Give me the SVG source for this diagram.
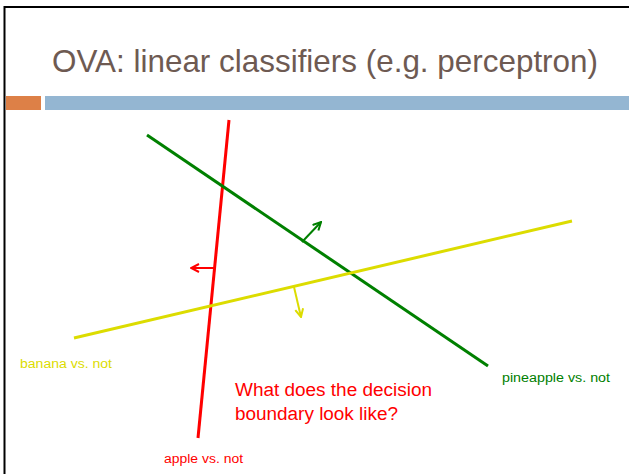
<svg xmlns="http://www.w3.org/2000/svg" width="629" height="474" viewBox="0 0 629 474">
  <style>
    .lbl { font-family: "Liberation Sans", "DejaVu Sans", sans-serif; }
    .title { font-size: 32px; fill: #6e5a52; }
    .small { font-size: 12px; }
    .q { font-size: 18px; fill: #ff0000; }
    .bound { fill: none; stroke-width: 3; stroke-linecap: butt; }
    .norm { fill: none; stroke-width: 2; }
  </style>
  <defs>
    <marker id="headRed" viewBox="0 0 10 10" refX="9" refY="5" markerWidth="10" markerHeight="10" orient="auto" markerUnits="userSpaceOnUse">
      <path d="M1,1 L9,5 L1,9" fill="none" stroke="#ff0000" stroke-width="2"/>
    </marker>
    <marker id="headGreen" viewBox="0 0 10 10" refX="9" refY="5" markerWidth="10" markerHeight="10" orient="auto" markerUnits="userSpaceOnUse">
      <path d="M1,1 L9,5 L1,9" fill="none" stroke="#008000" stroke-width="2"/>
    </marker>
    <marker id="headYellow" viewBox="0 0 10 10" refX="9" refY="5" markerWidth="10" markerHeight="10" orient="auto" markerUnits="userSpaceOnUse">
      <path d="M1,1 L9,5 L1,9" fill="none" stroke="#dcdc00" stroke-width="2"/>
    </marker>
  </defs>

  <rect width="629" height="474" fill="#ffffff"/>

  <!-- slide frame -->
  <path d="M4.5,474 V7 H629" fill="none" stroke="#000000" stroke-width="2"/>

  <!-- title -->
  <text class="lbl title" x="52" y="72" textLength="546" lengthAdjust="spacingAndGlyphs">OVA: linear classifiers (e.g. perceptron)</text>

  <!-- header bars -->
  <rect x="6" y="96" width="35" height="14" fill="#dd8047"/>
  <rect x="45" y="96" width="584" height="14" fill="#94b6d2"/>

  <g id="connectors">
    <!-- decision boundaries -->
    <line class="bound" x1="229" y1="120" x2="198" y2="438" stroke="#ff0000"/>
    <line class="bound" x1="147" y1="135" x2="488" y2="366" stroke="#008000"/>
    <line class="bound" x1="74" y1="338" x2="572" y2="221" stroke="#dcdc00"/>
    <!-- normal directions -->
    <line class="norm" x1="215" y1="268" x2="191" y2="268" stroke="#ff0000" marker-end="url(#headRed)"/>
    <line class="norm" x1="302" y1="242" x2="321" y2="222" stroke="#008000" marker-end="url(#headGreen)"/>
    <line class="norm" x1="294" y1="287" x2="301" y2="317" stroke="#dcdc00" marker-end="url(#headYellow)"/>
  </g>

  <g id="banana">
    <text class="lbl small" x="20" y="368" fill="#dcdc00" textLength="92" lengthAdjust="spacingAndGlyphs">banana vs. not</text>
  </g>
  <g id="pineapple">
    <text class="lbl small" x="502" y="382" fill="#008000" textLength="108" lengthAdjust="spacingAndGlyphs">pineapple vs. not</text>
  </g>
  <g id="apple">
    <text class="lbl small" x="164" y="463" fill="#ff0000" textLength="79" lengthAdjust="spacingAndGlyphs">apple vs. not</text>
  </g>
  <g id="question">
    <text class="lbl q" x="235" y="396" textLength="197" lengthAdjust="spacingAndGlyphs">What does the decision</text>
    <text class="lbl q" x="235" y="420" textLength="163" lengthAdjust="spacingAndGlyphs">boundary look like?</text>
  </g>
</svg>
